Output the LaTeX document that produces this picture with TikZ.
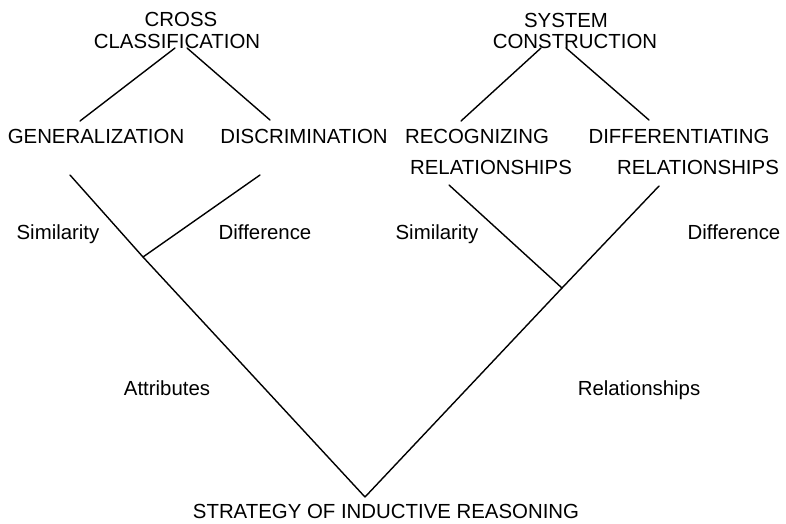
\documentclass[tikz,border=0pt]{standalone}
\usepackage{fontspec}
\setmainfont{Liberation Sans}
\begin{document}
\begin{tikzpicture}[x=1pt,y=-1pt,
  lbl/.style={inner sep=0pt, anchor=base, font=\fontsize{20.4}{24}\selectfont},
  ln/.style={line width=1.4pt, line cap=round, line join=round}]
\useasboundingbox (0,0) rectangle (786,523);
% texts
\node[lbl] (cross) at (181,26) {CROSS};
\node[lbl] (class) at (177,48) {CLASSIFICATION};
\node[lbl] (sys) at (566,27) {SYSTEM};
\node[lbl] (cons) at (575,48) {CONSTRUCTION};
\node[lbl] (gen) at (96,143) {GENERALIZATION};
\node[lbl] (disc) at (304,143) {DISCRIMINATION};
\node[lbl] (rec) at (477,143) {RECOGNIZING};
\node[lbl] (recrel) at (491,174) {RELATIONSHIPS};
\node[lbl] (diff) at (679,143) {DIFFERENTIATING};
\node[lbl] (diffrel) at (698,174) {RELATIONSHIPS};
\node[lbl] (simL) at (58,239) {Similarity};
\node[lbl] (difL) at (265,239) {Difference};
\node[lbl] (simR) at (437,239) {Similarity};
\node[lbl] (difR) at (734,239) {Difference};
\node[lbl] (attr) at (167,395) {Attributes};
\node[lbl] (rels) at (639,395) {Relationships};
\node[lbl] (strat) at (386,518.5) {STRATEGY OF INDUCTIVE REASONING};
% line end points
\coordinate (c1) at (175,48);
\coordinate (c2) at (187,48);
\coordinate (g1) at (80,121);
\coordinate (d1) at (270,120);
\coordinate (s1) at (541,48);
\coordinate (s2) at (566,48);
\coordinate (r1) at (461,121);
\coordinate (f1) at (649,120);
\coordinate (g2) at (70,175);
\coordinate (d2) at (260,175);
\coordinate (jL) at (143,257);
\coordinate (apex) at (365,497);
\coordinate (r2) at (449,185);
\coordinate (f2) at (659,186);
\coordinate (jR) at (562,288);
% connectors
\draw[ln] (c1) -- (g1);
\draw[ln] (c2) -- (d1);
\draw[ln] (s1) -- (r1);
\draw[ln] (s2) -- (f1);
\draw[ln] (g2) -- (jL) -- (apex) -- (jR) -- (f2);
\draw[ln] (d2) -- (jL);
\draw[ln] (r2) -- (jR);
\end{tikzpicture}
\end{document}
